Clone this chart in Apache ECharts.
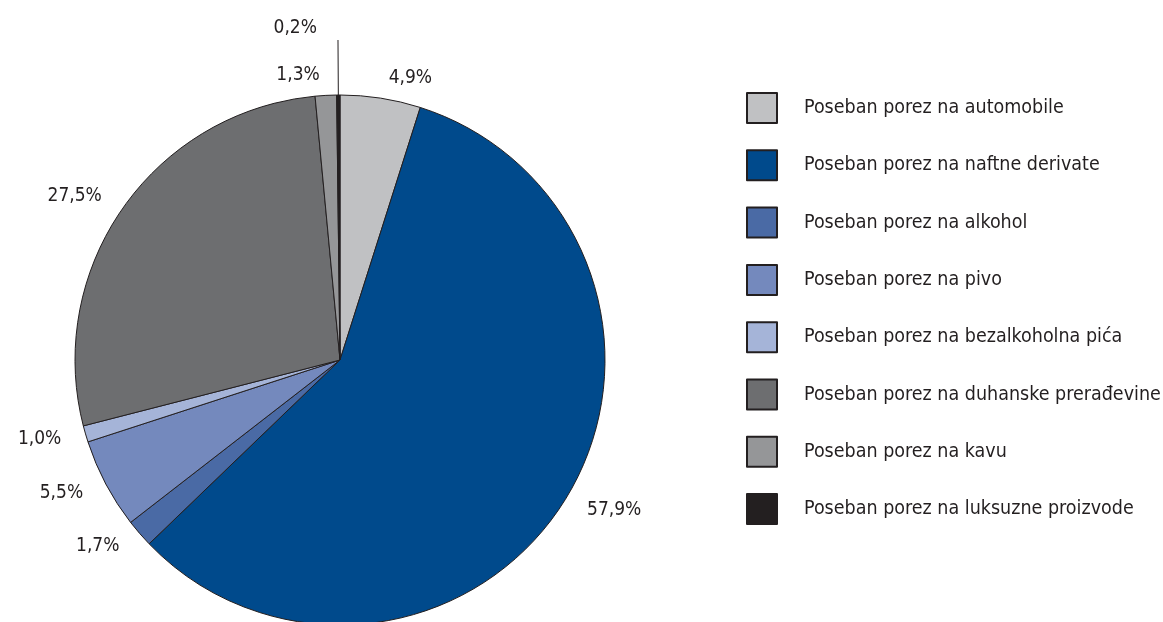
<!DOCTYPE html>
<html>
<head>
<meta charset="utf-8">
<script src="https://cdn.jsdelivr.net/npm/echarts@6/dist/echarts.min.js"></script>
<style>
  html, body { margin: 0; padding: 0; background: #fff; }
  #chart { width: 1163px; height: 622px; }
</style>
</head>
<body>
<div id="chart"></div>
<script>
// kategorije i udjeli (%)
var categories = [
  'Poseban porez na automobile',
  'Poseban porez na naftne derivate',
  'Poseban porez na alkohol',
  'Poseban porez na pivo',
  'Poseban porez na bezalkoholna pića',
  'Poseban porez na duhanske prerađevine',
  'Poseban porez na kavu',
  'Poseban porez na luksuzne proizvode'
];
var shares = [4.9, 57.9, 1.7, 5.5, 1.0, 27.5, 1.3, 0.2];
var colors = ['#c0c1c3', '#004a8c', '#4a6aa5', '#7489bd', '#a5b4d8', '#6d6e70', '#959698', '#231f20'];

var font = "'DejaVu Sans Condensed', 'Liberation Sans', sans-serif";
var last = shares.length - 1;

var data = categories.map(function(name, i) {
  var item = {
    name: name,
    value: shares[i],
    itemStyle: { color: colors[i] }
  };
  // najmanji udio ima vodilicu prema gore
  if (i === last) {
    item.labelLine = { show: true, length: 55, length2: 0, lineStyle: { color: '#231f20', width: 1 } };
    item.label = { padding: [0, 16, 0, 0], lineHeight: 24 };
  }
  return item;
});

var myChart = echarts.init(document.getElementById('chart'));
myChart.setOption({
  backgroundColor: '#ffffff',
  animation: false,
  legend: {
    orient: 'vertical',
    left: 746,
    top: 92,
    padding: 0,
    itemWidth: 30,
    itemHeight: 30,
    itemGap: 25.3,
    icon: 'rect',
    data: categories,
    textStyle: {
      fontFamily: font,
      fontSize: 19.5,
      color: '#231f20',
      padding: [0, 0, 0, 22]
    }
  },
  series: [{
    type: 'pie',
    center: [340, 360],
    radius: 265,
    startAngle: 90,
    clockwise: true,
    avoidLabelOverlap: false,
    itemStyle: { borderColor: '#231f20', borderWidth: 1 },
    emphasis: { disabled: true },
    label: {
      show: true,
      position: 'outside',
      fontFamily: font,
      fontSize: 19,
      color: '#231f20',
      formatter: function(p) {
        var txt = p.value.toFixed(1).replace('.', ',') + '%';
        return p.dataIndex === last ? txt + '\n' : txt;
      }
    },
    labelLine: { show: false, length: 20, length2: 0 },
    data: data
  }]
});
</script>
</body>
</html>
